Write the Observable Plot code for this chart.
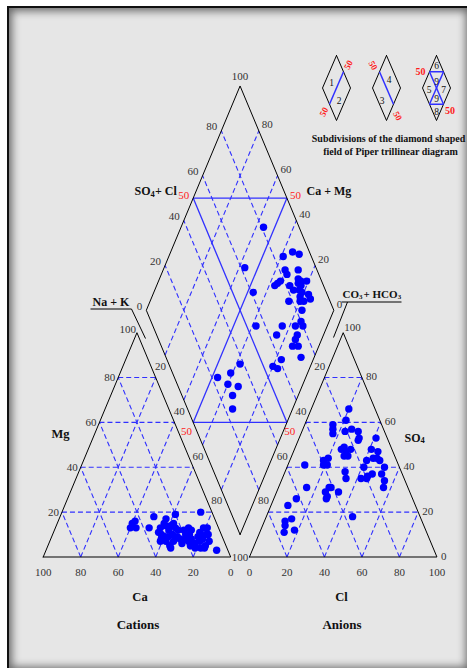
<!DOCTYPE html>
<html>
<head>
<meta charset="utf-8">
<script src="https://cdn.jsdelivr.net/npm/d3@7"></script>
<script src="https://cdn.jsdelivr.net/npm/@observablehq/plot@0.6"></script>
<style>
html, body { margin: 0; padding: 0; background: #fff; }
#wrap { position: relative; width: 467px; height: 668px; overflow: hidden; }
#frame { position: absolute; left: 7px; top: 6px; width: 462px; height: 664px; background: #e6e6e6;
  border-top: 2px solid #111; border-left: 2px solid #111; box-sizing: border-box;
  box-shadow: inset 0 0 9px 3px rgba(0,0,0,0.55); }
#chart { position: absolute; left: 0; top: 0; }
</style>
</head>
<body>
<div id="wrap"><div id="frame"></div><div id="chart"></div></div>
<script>
// ---------------- data (percent of meq/L) ----------------
const ticks = [20, 40, 60, 80];
const caTicks = [100, 80, 60, 40, 20, 0];
const clTicks = [0, 20, 40, 60, 80, 100];

// Cation triangle: Mg and Na+K (Ca = 100 - Mg - Na+K)
const cationMg  = [15,16,13,13,13,18,17,19,15,15,20,4,13,13,4,4,3,
                   13,14,14,12,10,9,10,7,7,9,11,12,9,13,7,5,8,
                   8,10,10,8,7,6,5,9,7,8,10,7,5,4,6,11,12,8,12,13,10,9];
const cationNaK = [40,41,40,43,50,50,57,61,57,62,74,66,79,81,79,84,91,
                   56,58,61,66,58,62,64,62,66,67,56,61,60,64,59,65,59,
                   69,71,73,75,74,71,76,78,80,81,83,85,84,82,78,78,73,72,69,71,82,80];

// Anion triangle: SO4 and Cl (CO3+HCO3 = 100 - SO4 - Cl)
const anionSO4 = [66,61,59,57,55,56,57,56,53,52,53,48,49,47,48,45,45,48,47,44,43,44,43,40,40,
                  43,44,41,41,41,38,35,35,36,35,37,37,34,31,31,31,29,27,26,29,31,26,23,17,16,14,11,12,18];
const anionCl  = [20,21,15,16,17,23,26,30,32,32,41,25,26,28,30,30,28,41,45,44,48,46,41,41,52,
                  18,20,19,21,9,32,34,42,45,45,47,52,55,56,28,27,26,28,28,33,15,12,9,14,11,12,13,18,46];

// Diamond field: Ca+Mg and SO4+Cl
const diamondCaMg  = [56,39,35,31,57,35,33,37,36,35,29,26,24,25,23,21,26,23,21,21,17,15,26,20,17,
                      47,38,25,24,17,15,13,14,14,11,14,7,17,20,17,38,41,47,40,34,35,32,28,18];
const diamondSO4Cl = [81,85,91,94,62,83,83,74,76,78,82,88,89,87,88,92,83,86,87,85,90,90,78,84,83,
                      61,55,64,69,76,80,80,75,73,73,70,72,61,55,57,38,31,23,27,32,27,24,90,86];

// ---------------- geometry ----------------
const S3 = Math.sqrt(3) / 2;
const GAP = 10;
const cat = (mg, na) => [na + mg / 2, mg * S3];
const ani = (so4, cl) => [100 + GAP + cl + so4 / 2, so4 * S3];
const dia = (cm, sc) => [100 + GAP / 2 + (sc - cm) / 2, GAP * S3 + (sc + cm) * S3];
const mid = (p, q) => [(p[0] + q[0]) / 2, (p[1] + q[1]) / 2];
const P = (px, py) => [(px - 42.7) / 1.875, (556.5 - py) / 2.59];
const seg = (p, q) => ({x1: p[0], y1: p[1], x2: q[0], y2: q[1]});
const lbl = (p, t) => ({x: p[0], y: p[1], t: String(t)});

const BLUE = "#3030ff";
const RED = "#ff1a1a";

// grids
const dashed = [
  ...ticks.flatMap(k => [seg(cat(k, 0), cat(k, 100 - k)), seg(cat(0, k), cat(100 - k, k)), seg(cat(0, 100 - k), cat(100 - k, 0))]),
  ...ticks.flatMap(k => [seg(ani(k, 0), ani(k, 100 - k)), seg(ani(0, k), ani(100 - k, k)), seg(ani(0, 100 - k), ani(100 - k, 0))]),
  ...ticks.flatMap(k => [seg(dia(k, 0), dia(k, 100)), seg(dia(0, k), dia(100, k))])
];
const solid = [
  seg(dia(50, 0), dia(50, 100)), seg(dia(0, 50), dia(100, 50)),
  seg(dia(100, 50), dia(50, 100)), seg(dia(50, 0), dia(0, 50))
];
const outlines = [
  ...[cat(0,0), cat(0,100), cat(100,0), cat(0,0)].map(p => ({s: "c", x: p[0], y: p[1]})),
  ...[ani(0,0), ani(0,100), ani(100,0), ani(0,0)].map(p => ({s: "a", x: p[0], y: p[1]})),
  ...[dia(0,0), dia(0,100), dia(100,100), dia(100,0), dia(0,0)].map(p => ({s: "d", x: p[0], y: p[1]}))
];
const pointers = [
  seg(P(90, 308.5), P(131, 308.5)), seg(P(131, 308.5), P(145, 338)),
  seg(P(341, 301.5), P(401, 301.5)), seg(P(347, 301.5), P(333, 337))
];

// points
const cationPts = cationMg.map((m, i) => { const p = cat(m, cationNaK[i]); return {x: p[0], y: p[1]}; });
const anionPts = anionSO4.map((s, i) => { const p = ani(s, anionCl[i]); return {x: p[0], y: p[1]}; });
const diamondPts = diamondCaMg.map((c, i) => { const p = dia(c, diamondSO4Cl[i]); return {x: p[0], y: p[1]}; });

// tick labels
const caLabels = caTicks.map(v => lbl(cat(0, 100 - v), v));
const clLabels = clTicks.map(v => lbl(ani(0, v), v));
const mgLabels = ticks.map(v => lbl(cat(v, 0), v));
const so4Labels = [0, ...ticks].map(v => lbl(ani(v, 100 - v), v));
const naGap = ticks.map(v => lbl(mid(cat(100 - v, v), dia(100 - v, 0)), v));
const hco3Gap = ticks.map(v => lbl(mid(ani(100 - v, 0), dia(0, 100 - v)), v));
const so4clLabels = [0, ...ticks].map(v => lbl(dia(100, v), v));
const camgLabels = [0, ...ticks].map(v => lbl(dia(v, 100), v));

// legend mini diamonds (pixel layout)
const LHW = 14, LHH = 32.5, LCY = 87.5;
const legendCx = [336, 386, 436];
const legOut = legendCx.flatMap((cx, i) =>
  [[cx, LCY - LHH], [cx + LHW, LCY], [cx, LCY + LHH], [cx - LHW, LCY], [cx, LCY - LHH]]
    .map(q => { const p = P(q[0], q[1]); return {s: "L" + i, x: p[0], y: p[1]}; }));
const mUL = cx => [cx - LHW / 2, LCY - LHH / 2], mUR = cx => [cx + LHW / 2, LCY - LHH / 2];
const mLL = cx => [cx - LHW / 2, LCY + LHH / 2], mLR = cx => [cx + LHW / 2, LCY + LHH / 2];
const lseg = (a, b) => seg(P(a[0], a[1]), P(b[0], b[1]));
const legLines = [
  lseg(mUR(336), mLL(336)),
  lseg(mUL(386), mLR(386)),
  lseg(mUL(436), mUR(436)), lseg(mLL(436), mLR(436)),
  lseg(mUL(436), mLR(436)), lseg(mUR(436), mLL(436))
];
const legNums = [
  [331, 82.5, "1"], [338.5, 100.5, "2"], [388.5, 79.5, "4"], [381.5, 100, "3"],
  [436, 65, "6"], [436, 81.5, "9"], [428.5, 89, "5"], [443, 89, "7"], [436, 98, "9"], [436, 111, "8"]
].map(d => { const p = P(d[0], d[1]); return {x: p[0], y: p[1], t: d[2]}; });
const pxText = (px, py, t) => { const p = P(px, py); return {x: p[0], y: p[1], t}; };

const tick = (data, o = {}) => Plot.text(data, {x: "x", y: "y", text: "t", fontSize: 11, fill: "#333", ...o});
const bold = (data, o = {}) => Plot.text(data, {x: "x", y: "y", text: "t", fontSize: 12.5, fontWeight: "bold", fill: "#111", ...o});

const chart = Plot.plot({
  width: 467, height: 668,
  x: {domain: [P(0, 0)[0], P(467, 0)[0]], range: [0, 467], axis: null},
  y: {domain: [P(0, 668)[1], P(0, 0)[1]], range: [668, 0], axis: null},
  style: {background: "transparent", fontFamily: "'Liberation Serif', 'Times New Roman', serif"},
  marks: [
    Plot.link(dashed, {x1: "x1", y1: "y1", x2: "x2", y2: "y2", stroke: BLUE, strokeWidth: 1.1, strokeDasharray: "5,3"}),
    Plot.link(solid, {x1: "x1", y1: "y1", x2: "x2", y2: "y2", stroke: BLUE, strokeWidth: 1.3}),
    Plot.line(outlines, {x: "x", y: "y", z: "s", stroke: "#000", strokeWidth: 1}),
    Plot.link(pointers, {x1: "x1", y1: "y1", x2: "x2", y2: "y2", stroke: "#000", strokeWidth: 1}),
    Plot.dot(cationPts, {x: "x", y: "y", r: 3.7, fill: "#0000ff"}),
    Plot.dot(anionPts, {x: "x", y: "y", r: 3.7, fill: "#0000ff"}),
    Plot.dot(diamondPts, {x: "x", y: "y", r: 3.7, fill: "#0000ff"}),

    // tick labels
    tick(caLabels, {dy: 15}),
    tick(clLabels, {dy: 15}),
    tick(mgLabels, {textAnchor: "end", dx: -3}),
    tick([lbl(cat(100, 0), 100)], {textAnchor: "end", dx: -1, dy: -3}),
    tick(so4Labels, {textAnchor: "start", dx: 4, dy: -1}),
    tick([lbl(ani(100, 0), 100)], {textAnchor: "start", dx: 1, dy: -5}),
    tick(naGap), tick(hco3Gap),
    tick([lbl(mid(cat(0, 100), ani(0, 0)), 100)]),
    tick(so4clLabels, {textAnchor: "end", dx: -4, dy: -4}),
    tick(camgLabels, {textAnchor: "start", dx: 3, dy: -6}),
    tick([lbl(dia(100, 100), 100)], {dy: -10}),
    tick([lbl(dia(100, 50), 50)], {textAnchor: "end", dx: -4, dy: -3, fill: RED}),
    tick([lbl(dia(50, 100), 50)], {textAnchor: "start", dx: 3, dy: -3, fill: RED}),
    tick([lbl(mid(cat(50, 50), dia(50, 0)), 50), lbl(mid(ani(50, 0), dia(0, 50)), 50)], {fill: RED, dx: -2, dy: -2}),

    // axis titles
    bold([pxText(134, 191, "SO")], {textAnchor: "start", fontSize: 12}),
    bold([pxText(150, 194, "4")], {textAnchor: "start", fontSize: 8.5}),
    bold([pxText(154.5, 191, "+ Cl")], {textAnchor: "start", fontSize: 12}),
    bold([pxText(306, 191, "Ca + Mg")], {textAnchor: "start", fontSize: 12}),
    bold([pxText(92, 301.5, "Na + K")], {textAnchor: "start", fontSize: 12}),
    bold([pxText(342, 294, "CO")], {textAnchor: "start", fontSize: 11}),
    bold([pxText(358.6, 296.5, "3")], {textAnchor: "start", fontSize: 7}),
    bold([pxText(363, 294, "+ HCO")], {textAnchor: "start", fontSize: 11}),
    bold([pxText(397.3, 296.5, "3")], {textAnchor: "start", fontSize: 7}),
    bold([pxText(60, 433.5, "Mg")]),
    bold([pxText(404, 437.5, "SO")], {textAnchor: "start", fontSize: 12}),
    bold([pxText(420, 440, "4")], {textAnchor: "start", fontSize: 8.5}),
    bold([pxText(139.5, 596, "Ca")]),
    bold([pxText(341, 596, "Cl")]),
    bold([pxText(137.5, 624, "Cations")], {fontSize: 13}),
    bold([pxText(341.5, 624, "Anions")], {fontSize: 13}),

    // legend
    Plot.line(legOut, {x: "x", y: "y", z: "s", stroke: "#000", strokeWidth: 1}),
    Plot.link(legLines, {x1: "x1", y1: "y1", x2: "x2", y2: "y2", stroke: BLUE, strokeWidth: 1.5}),
    Plot.text(legNums, {x: "x", y: "y", text: "t", fontSize: 9.5, fill: "#111"}),
    Plot.text([pxText(348, 64.5, "50"), pxText(323.5, 111.5, "50")], {x: "x", y: "y", text: "t", fontSize: 9, fontWeight: "bold", fill: RED, rotate: -62}),
    Plot.text([pxText(372.5, 65, "50"), pxText(397, 115.5, "50")], {x: "x", y: "y", text: "t", fontSize: 9, fontWeight: "bold", fill: RED, rotate: 62}),
    Plot.text([pxText(420, 71, "50"), pxText(449.5, 110.5, "50")], {x: "x", y: "y", text: "t", fontSize: 10, fontWeight: "bold", fill: RED}),
    bold([pxText(388, 138.5, "Subdivisions of the diamond shaped"), pxText(390, 151, "field of Piper trillinear diagram")], {fontSize: 10})
  ]
});
document.getElementById("chart").appendChild(chart);
</script>
</body>
</html>
